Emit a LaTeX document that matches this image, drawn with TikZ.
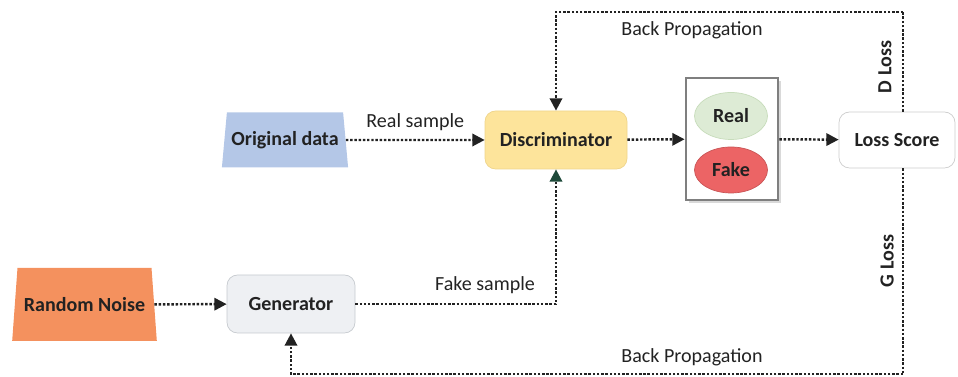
\documentclass[tikz,border=0pt]{standalone}
\usepackage{fontspec}
\setmainfont{Carlito}
\usetikzlibrary{arrows.meta,shapes.geometric}
\definecolor{Ink}{HTML}{222222}
\definecolor{OrigBlue}{HTML}{B4C7E7}
\definecolor{NoiseOrange}{HTML}{F4915E}
\definecolor{GenGray}{HTML}{EEF0F3}
\definecolor{GenEdge}{HTML}{C6CACF}
\definecolor{DiscYellow}{HTML}{FDE49B}
\definecolor{DiscEdge}{HTML}{EFD48A}
\definecolor{RealGreen}{HTML}{DDEBD5}
\definecolor{RealEdge}{HTML}{C7DCBB}
\definecolor{FakeRed}{HTML}{EC6465}
\definecolor{BoxGray}{HTML}{7F7F7F}
\definecolor{TipGreen}{HTML}{1E4A3A}

\begin{document}
\begin{tikzpicture}[every node/.style={font=\fontsize{11.4}{13}\selectfont,text=Ink},
  flow/.style={draw=Ink,line width=1.4pt,densely dotted,-{Triangle[length=7pt,width=7pt]}},
  loop/.style={draw=Ink,line width=1.4pt,densely dotted},
  trap/.style={trapezium,trapezium stretches=true,inner xsep=0pt,font=\fontsize{11.4}{13}\selectfont\bfseries},
  block/.style={rounded corners=6pt,minimum width=2.84cm,minimum height=1.16cm,font=\fontsize{11.4}{13}\selectfont\bfseries},
  blob/.style={ellipse,minimum width=1.46cm,minimum height=0.94cm,font=\fontsize{11.4}{13}\selectfont\bfseries}]
\useasboundingbox (0,0) rectangle (19.16,7.54);

\node[trap,fill=OrigBlue,trapezium left angle=81,trapezium right angle=81,minimum width=2.54cm,minimum height=1.1cm] (orig) at (5.70,4.74) {Original data};
\node[trap,fill=NoiseOrange,trapezium left angle=79.5,trapezium right angle=79.5,minimum width=2.9cm,minimum height=1.46cm] (noise) at (1.69,1.45) {Random Noise};
\node[block,fill=GenGray,draw=GenEdge,minimum width=2.56cm] (gen) at (5.82,1.46) {Generator};
\node[block,fill=DiscYellow,draw=DiscEdge] (disc) at (11.12,4.74) {Discriminator};
\fill[black!15] (13.78,3.48) rectangle (15.62,5.92);
\node[draw=BoxGray,line width=1.6pt,fill=white,minimum width=1.84cm,minimum height=2.44cm] (judge) at (14.64,4.76) {};
\node[blob,fill=RealGreen,draw=RealEdge] (real) at (14.62,5.22) {Real};
\node[blob,fill=FakeRed,draw=FakeRed!85!black,minimum height=0.92cm] (fake) at (14.62,4.14) {Fake};
\node[block,draw=black!20,fill=white,minimum width=2.32cm,minimum height=1.12cm] (loss) at (17.94,4.74) {Loss Score};

\coordinate (dtop) at (18.06,7.30);
\coordinate (gbot) at (18.06,0.06);

\draw[flow] (orig) -- (disc) node[midway,above=1pt] {Real sample};
\draw[flow] (noise) -- (gen);
\draw[flow,-{Triangle[length=7pt,width=7pt,color=TipGreen]}] (gen.east) -| (disc.south);
\node (fakelbl) at (9.70,1.84) {Fake sample};
\draw[flow] (disc) -- (judge);
\draw[flow] (judge) -- (loss);
\draw[loop] (loss.north -| dtop) -- (dtop);
\draw[flow] (dtop) -| (disc.north);
\draw[loop] (loss.south -| gbot) -- (gbot);
\draw[flow] (gbot) -| (gen.south);

\node (bptop) at (13.84,6.94) {Back Propagation};
\node (bpbot) at (13.84,0.40) {Back Propagation};
\node[rotate=90,font=\fontsize{11.4}{13}\selectfont\bfseries] (dloss) at (17.70,6.20) {D Loss};
\node[rotate=90,font=\fontsize{11.4}{13}\selectfont\bfseries] (gloss) at (17.74,2.32) {G Loss};
\end{tikzpicture}
\end{document}
